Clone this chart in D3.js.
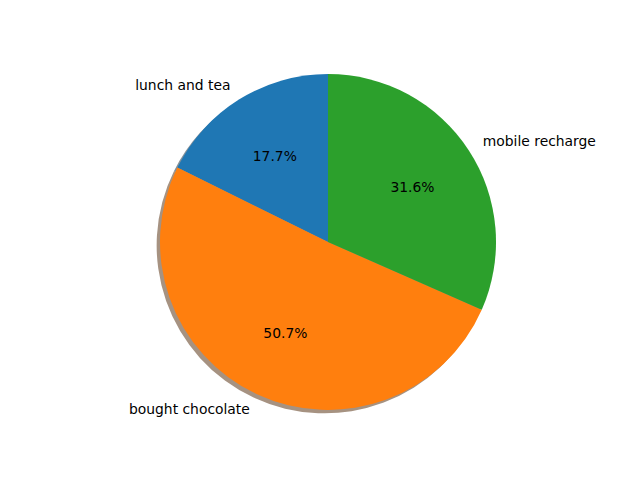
<!DOCTYPE html>
<meta charset="utf-8">
<style>
body { margin: 0; background: #fff; }
text { font-family: "DejaVu Sans", sans-serif; font-size: 13.89px; fill: #000; }
</style>
<body>
<script src="https://cdn.jsdelivr.net/npm/d3@7"></script>
<script>
// data
var labels = ["lunch and tea", "bought chocolate", "mobile recharge"];
var values = [17.7, 50.7, 31.6];
var colors = ["#1f77b4", "#ff7f0e", "#2ca02c"];

var width = 640, height = 480;
var cx = 328, cy = 242, r = 168;

var svg = d3.select("body").append("svg")
    .attr("width", width)
    .attr("height", height);

var g = svg.append("g")
    .attr("transform", "translate(" + cx + "," + cy + ")");

// counterclockwise from the top, like matplotlib startangle=90
var pie = d3.pie().sort(null).startAngle(0).endAngle(-2 * Math.PI);
var arcs = pie(values);

var arc = d3.arc().innerRadius(0).outerRadius(r);
var labelArc = d3.arc().innerRadius(r * 1.1).outerRadius(r * 1.1);
var pctArc = d3.arc().innerRadius(r * 0.6).outerRadius(r * 0.6);

var total = d3.sum(values);

// shadows: 0.3 * colour, alpha .5, shifted left/down
g.append("g")
    .attr("transform", "translate(" + (-0.02 * r) + "," + (0.02 * r) + ")")
  .selectAll("path")
    .data(arcs)
  .enter().append("path")
    .attr("d", arc)
    .attr("fill", function(d, i) {
      var c = d3.rgb(colors[i]);
      return d3.rgb(c.r * 0.3, c.g * 0.3, c.b * 0.3);
    })
    .attr("fill-opacity", 0.5);

// wedges
g.append("g").selectAll("path")
    .data(arcs)
  .enter().append("path")
    .attr("d", arc)
    .attr("fill", function(d, i) { return colors[i]; });

// outer labels
g.selectAll(".lbl")
    .data(arcs)
  .enter().append("text")
    .attr("class", "lbl")
    .attr("x", function(d) { return labelArc.centroid(d)[0]; })
    .attr("y", function(d) { return labelArc.centroid(d)[1]; })
    .attr("dy", "0.35em")
    .attr("text-anchor", function(d) { return labelArc.centroid(d)[0] < 0 ? "end" : "start"; })
    .text(function(d, i) { return labels[i]; });

// percentages
g.selectAll(".pct")
    .data(arcs)
  .enter().append("text")
    .attr("class", "pct")
    .attr("x", function(d) { return pctArc.centroid(d)[0]; })
    .attr("y", function(d) { return pctArc.centroid(d)[1]; })
    .attr("dy", "0.35em")
    .attr("text-anchor", "middle")
    .text(function(d) { return (d.value / total * 100).toFixed(1) + "%"; });
</script>
</body>
